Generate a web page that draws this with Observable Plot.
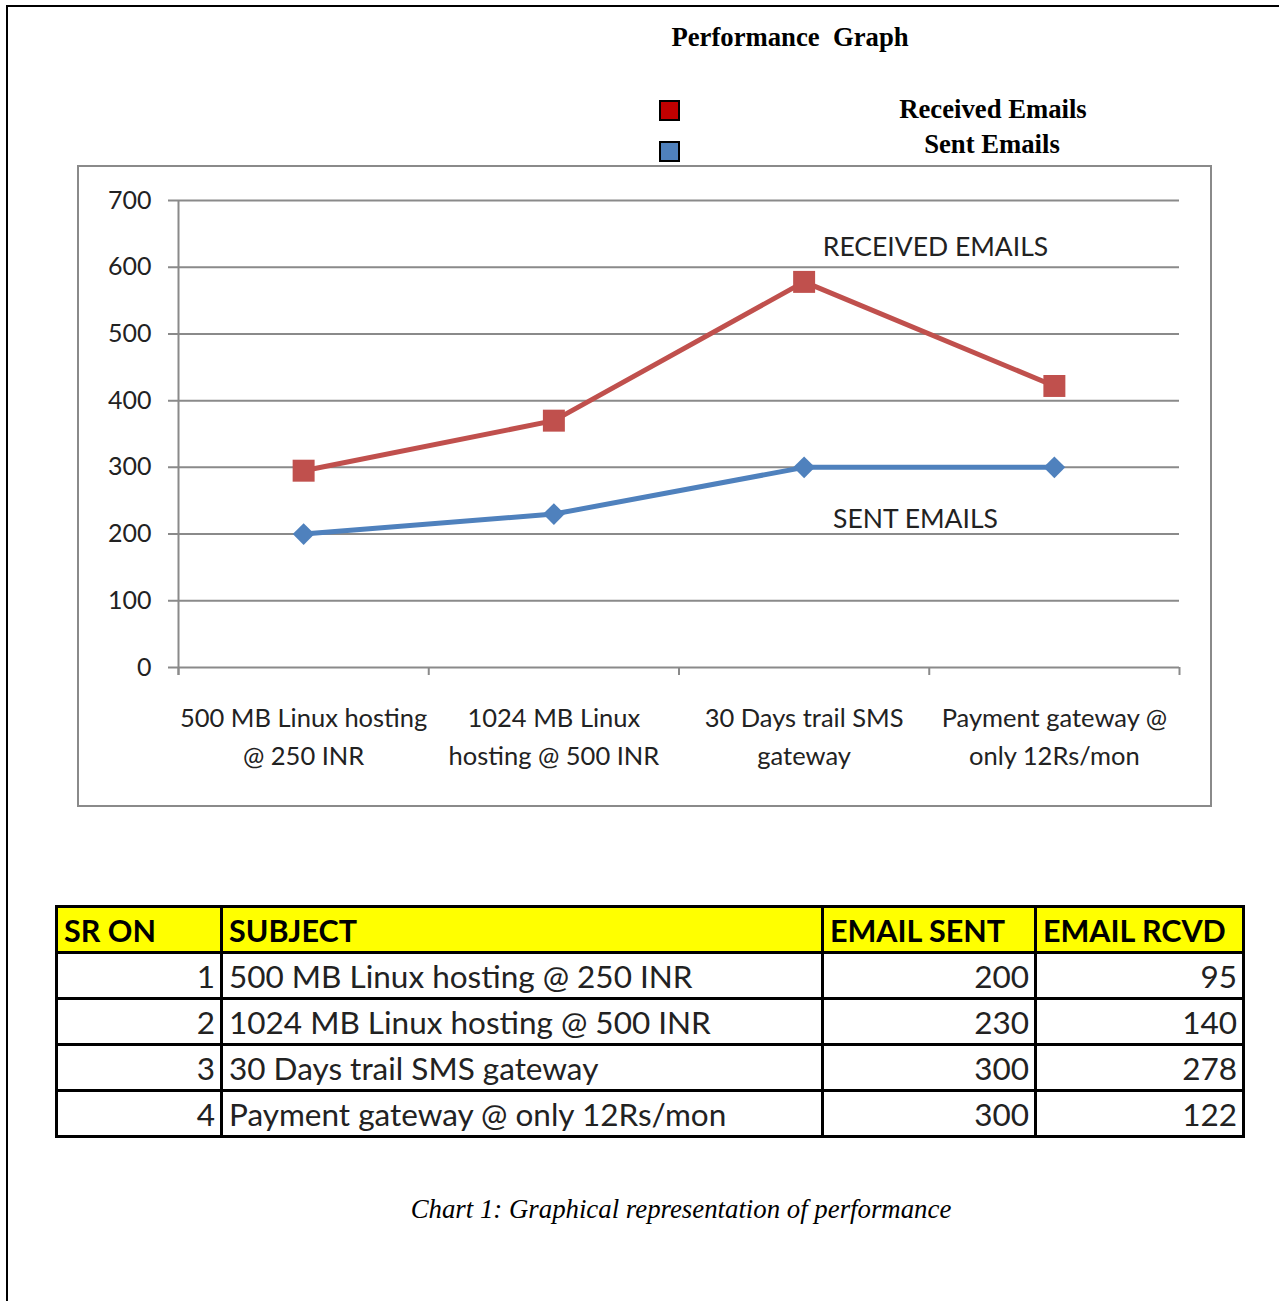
<!DOCTYPE html>
<html><head><meta charset="utf-8">
<script src="https://cdn.jsdelivr.net/npm/d3@7"></script>
<script src="https://cdn.jsdelivr.net/npm/@observablehq/plot@0.6"></script>
<style>
body{margin:0;background:#fff;}
#page{position:relative;width:1279px;height:1301px;overflow:hidden;font-family:Lato,sans-serif;background:#fff;}
#frameTop{position:absolute;left:6px;top:5px;width:1273px;height:2px;background:#000;}
#frameLeft{position:absolute;left:6px;top:5px;width:2px;height:1296px;background:#000;}
#title{position:absolute;left:590px;width:400px;top:22px;text-align:center;font:bold 26.7px "Liberation Serif",serif;white-space:pre;color:#000;}
.leg-sw{position:absolute;left:659px;width:17px;height:17px;border:2px solid #000;}
.leg-txt{position:absolute;width:300px;text-align:center;font:bold 26.7px "Liberation Serif",serif;color:#000;line-height:30px;}
#box{position:absolute;left:77px;top:165px;width:1131px;height:638px;border:2px solid #8a8a8a;}
#chart{position:absolute;left:79px;top:167px;}
#tbl{position:absolute;left:55px;top:905px;border-collapse:collapse;table-layout:fixed;width:1187px;font-family:Lato,sans-serif;font-size:31.5px;color:#222;}
#tbl td,#tbl th{border:3px solid #000;height:43px;padding:0 6px;white-space:nowrap;overflow:hidden;}
#tbl th{background:#ffff00;text-align:left;font-weight:bold;color:#000;font-size:30.5px;}
#tbl td.num{text-align:right;padding-right:5px;}
#caption{position:absolute;top:1194px;left:0;width:1362px;text-align:center;font:italic 26.8px "Liberation Serif",serif;color:#000;}
</style>
</head><body>
<div id="page">
  <div id="frameTop"></div><div id="frameLeft"></div>
  <div id="title"></div>
  <div id="legend"></div>
  <div id="box"></div>
  <div id="chart"></div>
  <table id="tbl"></table>
  <div id="caption"></div>
</div>
<script>
// ---- data ----
const titleText = "Performance  Graph";
const captionText = "Chart 1: Graphical representation of performance";
const categories = ["500 MB Linux hosting @ 250 INR","1024 MB Linux hosting @ 500 INR","30 Days trail SMS gateway","Payment gateway @ only 12Rs/mon"];
const tickLabels = ["500 MB Linux hosting\n@ 250 INR","1024 MB Linux\nhosting @ 500 INR","30 Days trail SMS\ngateway","Payment gateway @\nonly 12Rs/mon"];
const srNo = [1,2,3,4];
const sent = [200,230,300,300];
const rcvd = [95,140,278,122];
const seriesNames = ["Sent Emails","Received Emails"];
const seriesColors = ["#4F81BD","#C0504D"];
const legendNames = ["Received Emails","Sent Emails"];
const legendColors = ["#C00000","#4F81BD"];
const yTicks = [0,100,200,300,400,500,600,700];
const tableHeaders = ["SR ON","SUBJECT","EMAIL SENT","EMAIL RCVD"];
const annotations = [
  {label:"RECEIVED EMAILS", x:3.025, y:630},
  {label:"SENT EMAILS", x:2.945, y:222}
];

// ---- build ----
document.getElementById("title").textContent = titleText;
document.getElementById("caption").textContent = captionText;

const legend = d3.select("#legend");
const legTop = [100, 141];
const legTxtCenter = [[993,94],[992,129]];
legendNames.forEach((n,i)=>{
  legend.append("div").attr("class","leg-sw").style("top",legTop[i]+"px").style("background",legendColors[i]);
  legend.append("div").attr("class","leg-txt").style("left",(legTxtCenter[i][0]-150)+"px").style("top",legTxtCenter[i][1]+"px").text(n);
});

const rows = [];
seriesNames.forEach((s,si)=>{
  categories.forEach((c,i)=>{
    rows.push({series:s, x:i+0.5, value: si===0 ? sent[i] : rcvd[i]});
  });
});
const boundaries = d3.range(categories.length+1);
const gray = "#8a8a8a";

const chart = Plot.plot({
  width:1130, height:636,
  marginLeft:99, marginRight:30, marginTop:33, marginBottom:136,
  x:{type:"linear", domain:[0,categories.length], axis:null},
  y:{domain:[0,700], axis:null},
  color:{domain:seriesNames, range:seriesColors},
  symbol:{domain:seriesNames, range:["diamond2","square"]},
  r:{type:"identity"},
  style:{fontFamily:"Lato, sans-serif", fontSize:"25px", color:"#222", background:"transparent", overflow:"visible"},
  marks:[
    Plot.ruleY(yTicks, {stroke:gray, strokeWidth:2, insetLeft:-10}),
    Plot.ruleX([0], {stroke:gray, strokeWidth:2, insetBottom:-8}),
    Plot.ruleX(boundaries, {y1:0, y2:0, insetBottom:-8, stroke:gray, strokeWidth:2}),
    Plot.axisY({ticks:yTicks, tickSize:0, tickPadding:27, fontSize:25, fill:"#222"}),
    Plot.text(tickLabels, {x:(d,i)=>i+0.5, frameAnchor:"bottom", text:d=>d, lineAnchor:"top", dy:32, lineHeight:1.5, fontSize:25.5, fill:"#222"}),
    Plot.line(rows, Plot.stackY2({x:"x", y:"value", z:"series", stroke:"series", strokeWidth:5, order:null})),
    Plot.dot(rows, Plot.stackY2({x:"x", y:"value", z:"series", fill:"series", symbol:"series", r:d=>d.series==="Sent Emails"?9.8:12.4, order:null})),
    Plot.text(annotations, {x:"x", y:"y", text:"label", fontSize:26.5, fill:"#222"})
  ]
});
document.getElementById("chart").append(chart);

// table
const tbl = d3.select("#tbl");
const cg = tbl.append("colgroup");
[165,601,213,208].forEach(w=>cg.append("col").style("width",w+"px"));
tbl.append("tr").selectAll("th").data(tableHeaders).join("th").text(d=>d);
categories.forEach((c,i)=>{
  const tr = tbl.append("tr");
  tr.append("td").attr("class","num").text(srNo[i]);
  tr.append("td").text(c);
  tr.append("td").attr("class","num").text(sent[i]);
  tr.append("td").attr("class","num").text(rcvd[i]);
});
</script>
</body></html>
